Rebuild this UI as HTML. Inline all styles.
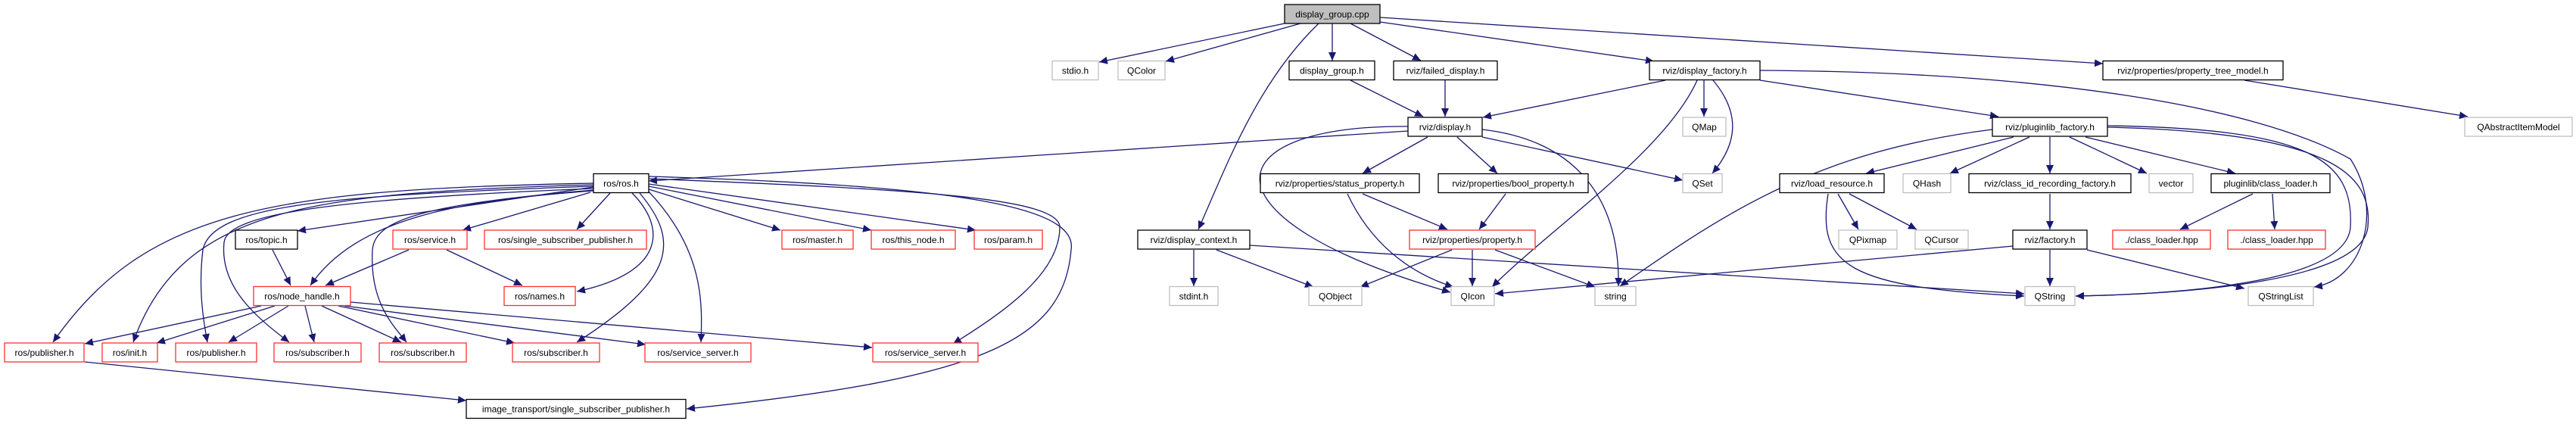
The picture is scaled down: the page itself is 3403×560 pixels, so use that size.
<!DOCTYPE html>
<html><head><meta charset="utf-8"><style>
html,body{margin:0;padding:0;background:#fff}
svg{display:block}
text{font-family:"Liberation Sans",sans-serif;font-size:12px;fill:#000}
.e{fill:none;stroke:#191970;stroke-width:1.3}
.n rect{fill:#fff;stroke-width:1.3}
.k rect{stroke:#000}
.r rect{stroke:#ff3030}
.g rect{stroke:#bfbfbf}
</style></head><body>
<svg width="3403" height="560" viewBox="0 0 3403 560" xmlns="http://www.w3.org/2000/svg">
<defs><marker id="a" markerUnits="userSpaceOnUse" markerWidth="12" markerHeight="10" refX="11" refY="5" orient="auto"><path d="M0,0L11,5L0,10z" fill="#191970"/></marker></defs>
<g marker-end="url(#a)">
<!-- root -->
<path class="e" d="M1697,31L1452,82"/>
<path class="e" d="M1718,31L1540,81"/>
<path class="e" d="M1760,31L1760,80"/>
<path class="e" d="M1784,31L1877,80"/>
<path class="e" d="M1823,29L2185,81"/>
<path class="e" d="M1823,23L2778,84"/>
<path class="e" d="M1742,31C1660,110 1620,220 1583,303"/>
<!-- row1 -->
<path class="e" d="M1784,106L1880,154"/>
<path class="e" d="M1909,106L1909,154"/>
<path class="e" d="M2200,106L1959,155"/>
<path class="e" d="M2251,106L2251,154"/>
<path class="e" d="M2263,106C2300,150 2295,190 2262,229"/>
<path class="e" d="M2242,106C2200,200 2050,300 1971,379"/>
<path class="e" d="M2325,106L2640,154"/>
<path class="e" d="M2325,93C2700,95 2980,140 3105,210C3150,280 3120,370 3057,379"/>
<path class="e" d="M2965,106L3260,154"/>
<!-- display.h -->
<path class="e" d="M1860,173L857,239"/>
<path class="e" d="M1860,167C1600,165 1580,290 1916,386"/>
<path class="e" d="M1886,181L1800,229"/>
<path class="e" d="M1925,181L1978,229"/>
<path class="e" d="M1958,171C2080,185 2140,260 2138,378"/>
<path class="e" d="M1958,181L2223,238"/>
<!-- pluginlib_factory -->
<path class="e" d="M2632,171C2400,200 2280,280 2140,378"/>
<path class="e" d="M2660,181L2465,229"/>
<path class="e" d="M2681,181L2576,229"/>
<path class="e" d="M2708,181L2708,229"/>
<path class="e" d="M2734,181L2836,229"/>
<path class="e" d="M2755,181L2953,229"/>
<path class="e" d="M2784,166C3050,170 3110,210 3105,300C3100,370 2900,388 2742,391"/>
<path class="e" d="M2784,168C3080,175 3135,230 3128,300C3120,370 2900,388 2742,391"/>
<!-- status / bool / property -->
<path class="e" d="M1780,256C1810,320 1860,360 1920,379"/>
<path class="e" d="M1800,256L1912,303"/>
<path class="e" d="M1989,256L1954,303"/>
<path class="e" d="M1918,330L1797,379"/>
<path class="e" d="M1945,330L1945,378"/>
<path class="e" d="M1975,330L2107,379"/>
<!-- display_context -->
<path class="e" d="M1577,330L1577,378"/>
<path class="e" d="M1607,330L1735,379"/>
<path class="e" d="M1651,324L2674,388"/>
<!-- load_resource -->
<path class="e" d="M2428,256L2455,303"/>
<path class="e" d="M2443,256L2532,303"/>
<path class="e" d="M2415,256C2400,350 2440,380 2674,391"/>
<path class="e" d="M2708,256L2708,303"/>
<path class="e" d="M2976,256L2880,303"/>
<path class="e" d="M3002,256L3005,303"/>
<!-- factory.h -->
<path class="e" d="M2708,330L2708,378"/>
<path class="e" d="M2757,330L2965,381"/>
<path class="e" d="M2659,325L1975,388"/>
<!-- ros.h -->
<path class="e" d="M784,247L393,305"/>
<path class="e" d="M780,254L611,304"/>
<path class="e" d="M806,255L762,303"/>
<path class="e" d="M857,250L1031,304"/>
<path class="e" d="M857,246L1151,304"/>
<path class="e" d="M857,243L1289,304"/>
<path class="e" d="M835,255C880,300 880,360 762,385"/>
<path class="e" d="M845,255C900,320 890,370 762,452"/>
<path class="e" d="M856,252C930,330 928,400 926,452"/>
<path class="e" d="M857,236C1200,250 1400,260 1400,300C1400,360 1330,410 1259,454"/>
<path class="e" d="M857,233C1250,245 1425,270 1415,330C1405,450 1300,500 907,540"/>
<path class="e" d="M784,242C350,250 190,280 70,452"/>
<path class="e" d="M784,244C420,255 240,270 176,452"/>
<path class="e" d="M784,246C440,258 280,270 268,330C262,380 268,420 274,452"/>
<path class="e" d="M784,249C460,262 300,280 296,320C290,380 340,420 382,452"/>
<path class="e" d="M784,251C560,270 495,290 492,330C488,400 520,430 537,452"/>
<path class="e" d="M784,252C600,265 470,290 410,377"/>
<path class="e" d="M360,330L384,377"/>
<path class="e" d="M540,330L430,377"/>
<path class="e" d="M590,330L690,377"/>
<!-- node_handle -->
<path class="e" d="M345,404L112,454"/>
<path class="e" d="M363,404L207,453"/>
<path class="e" d="M381,404L302,452"/>
<path class="e" d="M403,404L415,452"/>
<path class="e" d="M425,404L530,452"/>
<path class="e" d="M447,404L680,453"/>
<path class="e" d="M455,404L853,455"/>
<path class="e" d="M463,399L1152,459"/>
<path class="e" d="M112,478L616,529"/>
</g>
<!-- nodes -->
<g class="n k"><rect x="1697" y="6" width="126" height="25" style="fill:#bfbfbf"/><text x="1760" y="23" text-anchor="middle">display_group.cpp</text></g>
<g class="n g"><rect x="1390" y="80.5" width="61" height="25"/><text x="1420.5" y="97.5" text-anchor="middle">stdio.h</text></g>
<g class="n g"><rect x="1477" y="80.5" width="62" height="25"/><text x="1508" y="97.5" text-anchor="middle">QColor</text></g>
<g class="n k"><rect x="1703" y="80.5" width="113" height="25"/><text x="1759.5" y="97.5" text-anchor="middle">display_group.h</text></g>
<g class="n k"><rect x="1841" y="80.5" width="137" height="25"/><text x="1909.5" y="97.5" text-anchor="middle">rviz/failed_display.h</text></g>
<g class="n k"><rect x="2179" y="80.5" width="146" height="25"/><text x="2252" y="97.5" text-anchor="middle">rviz/display_factory.h</text></g>
<g class="n k"><rect x="2778" y="80.5" width="238" height="25"/><text x="2897" y="97.5" text-anchor="middle">rviz/properties/property_tree_model.h</text></g>
<g class="n k"><rect x="1860" y="155" width="98" height="25"/><text x="1909" y="172" text-anchor="middle">rviz/display.h</text></g>
<g class="n g"><rect x="2223" y="155" width="57" height="25"/><text x="2251.5" y="172" text-anchor="middle">QMap</text></g>
<g class="n k"><rect x="2632" y="155" width="152" height="25"/><text x="2708" y="172" text-anchor="middle">rviz/pluginlib_factory.h</text></g>
<g class="n g"><rect x="3256" y="155" width="142" height="25"/><text x="3327" y="172" text-anchor="middle">QAbstractItemModel</text></g>
<g class="n k"><rect x="784" y="229.5" width="73" height="25"/><text x="820.5" y="246.5" text-anchor="middle">ros/ros.h</text></g>
<g class="n k"><rect x="1665" y="229.5" width="210" height="25"/><text x="1770" y="246.5" text-anchor="middle">rviz/properties/status_property.h</text></g>
<g class="n k"><rect x="1900" y="229.5" width="198" height="25"/><text x="1999" y="246.5" text-anchor="middle">rviz/properties/bool_property.h</text></g>
<g class="n g"><rect x="2223" y="229.5" width="52" height="25"/><text x="2249" y="246.5" text-anchor="middle">QSet</text></g>
<g class="n k"><rect x="2351" y="229.5" width="138" height="25"/><text x="2420" y="246.5" text-anchor="middle">rviz/load_resource.h</text></g>
<g class="n g"><rect x="2514" y="229.5" width="63" height="25"/><text x="2545.5" y="246.5" text-anchor="middle">QHash</text></g>
<g class="n k"><rect x="2601" y="229.5" width="214" height="25"/><text x="2708" y="246.5" text-anchor="middle">rviz/class_id_recording_factory.h</text></g>
<g class="n g"><rect x="2839" y="229.5" width="58" height="25"/><text x="2868" y="246.5" text-anchor="middle">vector</text></g>
<g class="n k"><rect x="2921" y="229.5" width="157" height="25"/><text x="2999.5" y="246.5" text-anchor="middle">pluginlib/class_loader.h</text></g>
<g class="n k"><rect x="311" y="304" width="82" height="25"/><text x="352" y="321" text-anchor="middle">ros/topic.h</text></g>
<g class="n r"><rect x="519" y="304" width="98" height="25"/><text x="568" y="321" text-anchor="middle">ros/service.h</text></g>
<g class="n r"><rect x="640" y="304" width="214" height="25"/><text x="747" y="321" text-anchor="middle">ros/single_subscriber_publisher.h</text></g>
<g class="n r"><rect x="1033" y="304" width="94" height="25"/><text x="1080" y="321" text-anchor="middle">ros/master.h</text></g>
<g class="n r"><rect x="1151" y="304" width="111" height="25"/><text x="1206.5" y="321" text-anchor="middle">ros/this_node.h</text></g>
<g class="n r"><rect x="1287" y="304" width="90" height="25"/><text x="1332" y="321" text-anchor="middle">ros/param.h</text></g>
<g class="n k"><rect x="1503" y="304" width="148" height="25"/><text x="1577" y="321" text-anchor="middle">rviz/display_context.h</text></g>
<g class="n r"><rect x="1862" y="304" width="166" height="25"/><text x="1945" y="321" text-anchor="middle">rviz/properties/property.h</text></g>
<g class="n g"><rect x="2429" y="304" width="77" height="25"/><text x="2467.5" y="321" text-anchor="middle">QPixmap</text></g>
<g class="n g"><rect x="2530" y="304" width="70" height="25"/><text x="2565" y="321" text-anchor="middle">QCursor</text></g>
<g class="n k"><rect x="2659" y="304" width="98" height="25"/><text x="2708" y="321" text-anchor="middle">rviz/factory.h</text></g>
<g class="n r"><rect x="2791" y="304" width="129" height="25"/><text x="2855.5" y="321" text-anchor="middle">./class_loader.hpp</text></g>
<g class="n r"><rect x="2943" y="304" width="129" height="25"/><text x="3007.5" y="321" text-anchor="middle">./class_loader.hpp</text></g>
<g class="n r"><rect x="335" y="378.5" width="128" height="25"/><text x="399" y="395.5" text-anchor="middle">ros/node_handle.h</text></g>
<g class="n r"><rect x="666" y="378.5" width="94" height="25"/><text x="713" y="395.5" text-anchor="middle">ros/names.h</text></g>
<g class="n g"><rect x="1545" y="378.5" width="64" height="25"/><text x="1577" y="395.5" text-anchor="middle">stdint.h</text></g>
<g class="n g"><rect x="1729" y="378.5" width="70" height="25"/><text x="1764" y="395.5" text-anchor="middle">QObject</text></g>
<g class="n g"><rect x="1917" y="378.5" width="57" height="25"/><text x="1945.5" y="395.5" text-anchor="middle">QIcon</text></g>
<g class="n g"><rect x="2107" y="378.5" width="54" height="25"/><text x="2134" y="395.5" text-anchor="middle">string</text></g>
<g class="n g"><rect x="2675" y="378.5" width="66" height="25"/><text x="2708" y="395.5" text-anchor="middle">QString</text></g>
<g class="n g"><rect x="2970" y="378.5" width="86" height="25"/><text x="3013" y="395.5" text-anchor="middle">QStringList</text></g>
<g class="n r"><rect x="6" y="453" width="105" height="25"/><text x="58.5" y="470" text-anchor="middle">ros/publisher.h</text></g>
<g class="n r"><rect x="135" y="453" width="73" height="25"/><text x="171.5" y="470" text-anchor="middle">ros/init.h</text></g>
<g class="n r"><rect x="232" y="453" width="107" height="25"/><text x="285.5" y="470" text-anchor="middle">ros/publisher.h</text></g>
<g class="n r"><rect x="362" y="453" width="115" height="25"/><text x="419.5" y="470" text-anchor="middle">ros/subscriber.h</text></g>
<g class="n r"><rect x="501" y="453" width="115" height="25"/><text x="558.5" y="470" text-anchor="middle">ros/subscriber.h</text></g>
<g class="n r"><rect x="677" y="453" width="115" height="25"/><text x="734.5" y="470" text-anchor="middle">ros/subscriber.h</text></g>
<g class="n r"><rect x="852" y="453" width="140" height="25"/><text x="922" y="470" text-anchor="middle">ros/service_server.h</text></g>
<g class="n r"><rect x="1153" y="453" width="139" height="25"/><text x="1222.5" y="470" text-anchor="middle">ros/service_server.h</text></g>
<g class="n k"><rect x="616" y="527.5" width="290" height="25"/><text x="761" y="544.5" text-anchor="middle">image_transport/single_subscriber_publisher.h</text></g>
</svg>
</body></html>
